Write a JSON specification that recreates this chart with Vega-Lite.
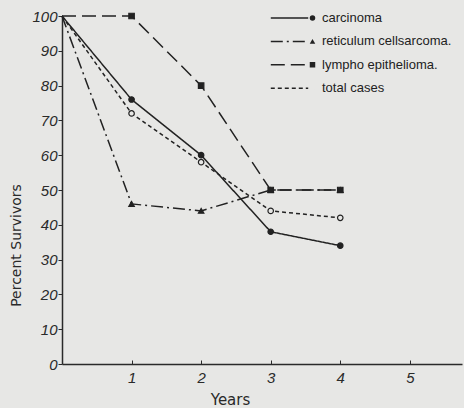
{
  "$schema": "https://vega.github.io/schema/vega-lite/v6.json",
  "width": 400,
  "height": 348,
  "autosize": {"type": "none"},
  "padding": {"left": 62, "top": 16, "right": 2, "bottom": 44},
  "background": "#e7e7e5",
  "config": {
    "view": {"stroke": null},
    "font": "Liberation Sans",
    "axis": {"domainColor": "#2a2a2a", "tickColor": "#2a2a2a", "grid": false, "labelColor": "#2a2a2a", "titleColor": "#2a2a2a", "domainWidth": 1.5, "labelFont": "Liberation Sans", "titleFont": "DejaVu Sans", "titleFontWeight": "normal"}
  },
  "data": {
    "values": [
      {"series": "carcinoma", "year": 0, "pct": 100},
      {"series": "carcinoma", "year": 1, "pct": 76},
      {"series": "carcinoma", "year": 2, "pct": 60},
      {"series": "carcinoma", "year": 3, "pct": 38},
      {"series": "carcinoma", "year": 4, "pct": 34},
      {"series": "reticulum cellsarcoma.", "year": 0, "pct": 100},
      {"series": "reticulum cellsarcoma.", "year": 1, "pct": 46},
      {"series": "reticulum cellsarcoma.", "year": 2, "pct": 44},
      {"series": "reticulum cellsarcoma.", "year": 3, "pct": 50},
      {"series": "reticulum cellsarcoma.", "year": 4, "pct": 50},
      {"series": "lympho epithelioma.", "year": 0, "pct": 100},
      {"series": "lympho epithelioma.", "year": 1, "pct": 100},
      {"series": "lympho epithelioma.", "year": 2, "pct": 80},
      {"series": "lympho epithelioma.", "year": 3, "pct": 50},
      {"series": "lympho epithelioma.", "year": 4, "pct": 50},
      {"series": "total cases", "year": 0, "pct": 100},
      {"series": "total cases", "year": 1, "pct": 72},
      {"series": "total cases", "year": 2, "pct": 58},
      {"series": "total cases", "year": 3, "pct": 44},
      {"series": "total cases", "year": 4, "pct": 42}
    ]
  },
  "encoding": {
    "x": {
      "field": "year", "type": "quantitative",
      "scale": {"domain": [0, 5.75], "nice": false, "zero": false},
      "axis": {"values": [1, 2, 3, 4, 5], "tickSize": -4, "labelPadding": 10, "labelFontSize": 15, "labelFontStyle": "italic", "title": "Years", "titleFontSize": 15, "titleX": 168, "titleY": 40, "titleBaseline": "alphabetic", "titleAnchor": "middle"}
    },
    "y": {
      "field": "pct", "type": "quantitative",
      "scale": {"domain": [0, 100], "nice": false},
      "axis": {"values": [0, 10, 20, 30, 40, 50, 60, 70, 80, 90, 100], "tickSize": 4, "labelPadding": 1, "labelFontSize": 15, "labelFontStyle": "italic", "title": "Percent Survivors", "titleFontSize": 14, "titleX": -39, "titleY": 229, "titleAnchor": "middle"}
    }
  },
  "resolve": {"legend": {"strokeDash": "independent"}},
  "layer": [
    {
      "mark": {"type": "line", "color": "#222", "strokeWidth": 1.5},
      "encoding": {
        "strokeDash": {
          "field": "series", "type": "nominal",
          "scale": {"domain": ["carcinoma", "reticulum cellsarcoma.", "lympho epithelioma.", "total cases"], "range": [[1, 0], [12, 4, 2, 4], [14, 6], [4, 3]]},
          "legend": {"orient": "none", "legendX": 208, "legendY": -5, "symbolType": "stroke", "symbolSize": 1400, "symbolStrokeWidth": 1.5, "symbolStrokeColor": "#222", "clipHeight": 14, "labelExpr": "''", "labelFontSize": 13, "rowPadding": 9.4, "title": null}
        }
      }
    },
    {
      "transform": [{"filter": "datum.year > 0"}],
      "mark": {"type": "point", "stroke": "#222", "strokeWidth": 1.2, "opacity": 1, "size": 30},
      "encoding": {
        "shape": {
          "field": "series", "type": "nominal",
          "scale": {"domain": ["carcinoma", "reticulum cellsarcoma.", "lympho epithelioma.", "total cases"], "range": ["circle", "triangle-up", "square", "circle"]},
          "legend": {"orient": "none", "legendX": 244, "legendY": -5, "symbolSize": 30, "symbolStrokeColor": "#222", "symbolStrokeWidth": 1.2, "clipHeight": 14, "labelFontSize": 13, "labelColor": "#222", "labelOffset": 3, "rowPadding": 9.4, "title": null, "encode": {"symbols": {"update": {"stroke": {"value": "#222"}, "strokeWidth": {"value": 1.2}}}}}
        },
        "fill": {
          "field": "series", "type": "nominal",
          "scale": {"domain": ["carcinoma", "reticulum cellsarcoma.", "lympho epithelioma.", "total cases"], "range": ["#222", "#222", "#222", "#e7e7e5"]},
          "legend": {"orient": "none", "legendX": 244, "legendY": -5, "symbolSize": 30, "symbolStrokeColor": "#222", "symbolStrokeWidth": 1.2, "clipHeight": 14, "labelFontSize": 13, "labelColor": "#222", "labelOffset": 3, "rowPadding": 9.4, "title": null, "encode": {"symbols": {"update": {"stroke": {"value": "#222"}, "strokeWidth": {"value": 1.2}}}}}
        }
      }
    }
  ]
}
